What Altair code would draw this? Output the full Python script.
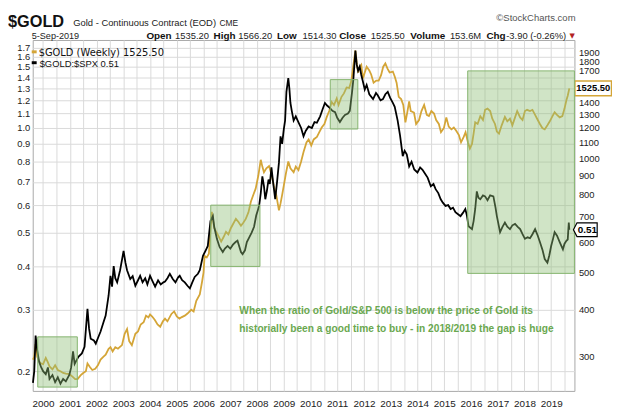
import altair as alt
import pandas as pd

SANS = "Liberation Sans, Arial, sans-serif"
GOLD_C = "#d4a537"

# ---- $GOLD:$SPX ratio (left axis) ----
ratio_years = [1999.62, 1999.67, 1999.72, 1999.78, 1999.85, 1999.93, 2000.00, 2000.10, 2000.18, 2000.24,
               2000.35, 2000.45, 2000.55, 2000.65, 2000.75, 2000.85, 2000.98, 2001.05, 2001.12, 2001.18,
               2001.32, 2001.45, 2001.55, 2001.66, 2001.72, 2001.78, 2001.90, 2001.97, 2002.06, 2002.15,
               2002.25, 2002.34, 2002.45, 2002.52, 2002.58, 2002.64, 2002.70, 2002.77, 2002.88, 2003.01,
               2003.08, 2003.14, 2003.26, 2003.35, 2003.45, 2003.55, 2003.63, 2003.72, 2003.82, 2003.90,
               2004.00, 2004.10, 2004.19, 2004.30, 2004.40, 2004.50, 2004.56, 2004.65, 2004.74, 2004.85,
               2004.95, 2005.05, 2005.11, 2005.20, 2005.30, 2005.40, 2005.49, 2005.58, 2005.67, 2005.79,
               2005.86, 2005.98, 2006.10, 2006.16, 2006.26, 2006.35, 2006.40, 2006.50, 2006.60, 2006.72,
               2006.80, 2006.90, 2007.00, 2007.10, 2007.20, 2007.27, 2007.40, 2007.46, 2007.55, 2007.62,
               2007.71, 2007.80, 2007.89, 2007.97, 2008.08, 2008.14, 2008.20, 2008.26, 2008.31, 2008.37,
               2008.43, 2008.48, 2008.54, 2008.60, 2008.68, 2008.75, 2008.82, 2008.88, 2008.94, 2009.00,
               2009.05, 2009.10, 2009.17, 2009.21, 2009.25, 2009.30, 2009.37, 2009.45, 2009.56, 2009.65,
               2009.74, 2009.82, 2009.93, 2010.05, 2010.15, 2010.24, 2010.36, 2010.45, 2010.54, 2010.62,
               2010.73, 2010.82, 2010.92, 2011.00, 2011.10, 2011.20, 2011.29, 2011.40, 2011.47, 2011.55,
               2011.60, 2011.68, 2011.73, 2011.78, 2011.84, 2011.90, 2011.96, 2012.03, 2012.10, 2012.20,
               2012.34, 2012.45, 2012.52, 2012.62, 2012.71, 2012.80, 2012.89, 2012.98, 2013.08, 2013.15,
               2013.26, 2013.35, 2013.45, 2013.52, 2013.60, 2013.69, 2013.78, 2013.88, 2014.00, 2014.10,
               2014.19, 2014.28, 2014.38, 2014.50, 2014.60, 2014.68, 2014.78, 2014.87, 2014.95, 2015.05,
               2015.15, 2015.24, 2015.33, 2015.42, 2015.52, 2015.61, 2015.70, 2015.79, 2015.85, 2015.91,
               2016.04, 2016.10, 2016.16, 2016.22, 2016.28, 2016.35, 2016.45, 2016.53, 2016.62, 2016.72,
               2016.84, 2016.92, 2016.97, 2017.09, 2017.18, 2017.27, 2017.36, 2017.46, 2017.55, 2017.65,
               2017.75, 2017.84, 2017.93, 2018.02, 2018.12, 2018.21, 2018.30, 2018.40, 2018.50, 2018.58,
               2018.68, 2018.76, 2018.86, 2018.93, 2019.00, 2019.07, 2019.13, 2019.22, 2019.32, 2019.44,
               2019.50, 2019.57, 2019.62, 2019.66, 2019.68]
ratio_values = [0.185, 0.200, 0.253, 0.230, 0.213, 0.205, 0.200, 0.196, 0.205, 0.190,
                0.195, 0.186, 0.192, 0.184, 0.190, 0.187, 0.195, 0.205, 0.228, 0.210,
                0.220, 0.225, 0.235, 0.302, 0.265, 0.248, 0.245, 0.240, 0.250, 0.260,
                0.275, 0.289, 0.330, 0.376, 0.350, 0.401, 0.370, 0.360, 0.390, 0.443,
                0.410, 0.390, 0.368, 0.375, 0.352, 0.365, 0.376, 0.360, 0.370, 0.355,
                0.376, 0.362, 0.350, 0.365, 0.355, 0.360, 0.362, 0.370, 0.381, 0.368,
                0.360, 0.372, 0.376, 0.365, 0.360, 0.352, 0.346, 0.360, 0.373, 0.381,
                0.390, 0.429, 0.448, 0.458, 0.540, 0.558, 0.520, 0.480, 0.455, 0.440,
                0.450, 0.458, 0.450, 0.462, 0.470, 0.474, 0.440, 0.434, 0.445, 0.470,
                0.485, 0.500, 0.520, 0.560, 0.597, 0.650, 0.726, 0.680, 0.624, 0.660,
                0.711, 0.690, 0.770, 0.700, 0.624, 0.700, 0.795, 0.946, 0.900, 0.989,
                1.05, 1.27, 1.39, 1.30, 1.18, 1.12, 1.05, 1.08, 1.035, 1.00,
                0.946, 0.98, 1.01, 1.00, 1.04, 1.035, 1.08, 1.13, 1.18, 1.16,
                1.14, 1.12, 1.11, 1.07, 1.04, 1.07, 1.09, 1.10, 1.12, 1.26,
                1.37, 1.67, 1.52, 1.46, 1.50, 1.42, 1.36, 1.29, 1.33, 1.25,
                1.21, 1.26, 1.24, 1.20, 1.21, 1.25, 1.27, 1.22, 1.18, 1.15,
                1.05, 0.95, 0.83, 0.86, 0.84, 0.775, 0.80, 0.76, 0.745, 0.77,
                0.758, 0.74, 0.72, 0.68, 0.69, 0.667, 0.65, 0.624, 0.61, 0.597,
                0.60, 0.585, 0.59, 0.573, 0.565, 0.558, 0.570, 0.585, 0.560, 0.522,
                0.512, 0.540, 0.585, 0.657, 0.630, 0.624, 0.640, 0.636, 0.620, 0.640,
                0.636, 0.590, 0.558, 0.502, 0.520, 0.535, 0.520, 0.512, 0.525, 0.530,
                0.520, 0.512, 0.495, 0.480, 0.485, 0.482, 0.495, 0.512, 0.490, 0.470,
                0.445, 0.420, 0.410, 0.430, 0.458, 0.480, 0.502, 0.490, 0.470, 0.448,
                0.465, 0.474, 0.478, 0.535, 0.51]

# ---- $GOLD weekly price (right axis) ----
gold_years = [1999.62, 1999.67, 1999.72, 1999.78, 1999.85, 1999.93, 2000.00, 2000.10, 2000.18, 2000.24,
              2000.35, 2000.45, 2000.55, 2000.65, 2000.75, 2000.85, 2000.98, 2001.10, 2001.20, 2001.29,
              2001.40, 2001.50, 2001.60, 2001.66, 2001.75, 2001.84, 2001.95, 2002.05, 2002.15, 2002.25,
              2002.34, 2002.45, 2002.52, 2002.60, 2002.70, 2002.80, 2002.95, 2003.05, 2003.14, 2003.22,
              2003.32, 2003.45, 2003.55, 2003.65, 2003.76, 2003.85, 2003.94, 2004.00, 2004.08, 2004.18,
              2004.28, 2004.38, 2004.48, 2004.56, 2004.65, 2004.80, 2004.90, 2005.00, 2005.10, 2005.17,
              2005.30, 2005.40, 2005.54, 2005.63, 2005.73, 2005.86, 2005.95, 2006.00, 2006.04, 2006.12,
              2006.20, 2006.31, 2006.40, 2006.47, 2006.55, 2006.66, 2006.75, 2006.84, 2006.93, 2007.02,
              2007.10, 2007.21, 2007.30, 2007.40, 2007.48, 2007.58, 2007.68, 2007.77, 2007.86, 2007.95,
              2008.05, 2008.14, 2008.20, 2008.26, 2008.35, 2008.45, 2008.55, 2008.63, 2008.72, 2008.82,
              2008.88, 2008.94, 2009.00, 2009.08, 2009.17, 2009.25, 2009.37, 2009.45, 2009.55, 2009.65,
              2009.74, 2009.85, 2009.93, 2010.03, 2010.12, 2010.24, 2010.33, 2010.42, 2010.52, 2010.61,
              2010.70, 2010.79, 2010.88, 2010.98, 2011.05, 2011.16, 2011.25, 2011.35, 2011.45, 2011.53,
              2011.60, 2011.68, 2011.73, 2011.78, 2011.84, 2011.90, 2011.96, 2012.03, 2012.10, 2012.20,
              2012.27, 2012.36, 2012.46, 2012.55, 2012.64, 2012.72, 2012.80, 2012.88, 2012.96, 2013.08,
              2013.15, 2013.22, 2013.30, 2013.39, 2013.47, 2013.55, 2013.62, 2013.69, 2013.75, 2013.87,
              2013.95, 2014.06, 2014.15, 2014.25, 2014.35, 2014.43, 2014.52, 2014.62, 2014.70, 2014.80,
              2014.88, 2014.99, 2015.08, 2015.17, 2015.27, 2015.36, 2015.45, 2015.55, 2015.63, 2015.73,
              2015.80, 2015.89, 2015.96, 2016.04, 2016.10, 2016.16, 2016.25, 2016.35, 2016.45, 2016.53,
              2016.62, 2016.72, 2016.80, 2016.90, 2016.97, 2017.05, 2017.15, 2017.27, 2017.36, 2017.46,
              2017.55, 2017.65, 2017.73, 2017.84, 2017.93, 2018.02, 2018.10, 2018.21, 2018.30, 2018.40,
              2018.50, 2018.58, 2018.67, 2018.76, 2018.86, 2018.95, 2019.05, 2019.13, 2019.22, 2019.32,
              2019.42, 2019.50, 2019.57, 2019.62, 2019.68]
gold_prices = [295, 300, 324, 300, 292, 288, 287, 298, 290, 283,
               278, 285, 277, 275, 272, 271, 270, 266, 262, 262,
               268, 272, 275, 288, 282, 277, 279, 285, 295, 300,
               304, 315, 318, 310, 318, 315, 322, 345, 355, 330,
               322, 345, 350, 365, 370, 385, 381, 388, 383, 375,
               365, 360, 372, 378, 372, 389, 395, 383, 378, 381,
               385, 390, 399, 395, 421, 438, 475, 500, 553, 548,
               560, 722, 654, 640, 625, 603, 620, 640, 630, 654,
               670, 692, 680, 664, 675, 692, 720, 768, 800, 831,
               900, 990, 950, 918, 940, 953, 900, 845, 800, 729,
               760, 800, 845, 910, 980, 940, 918, 950, 930, 980,
               1038, 1100, 1119, 1080, 1120, 1137, 1170, 1204, 1230, 1284,
               1330, 1405, 1380, 1436, 1380, 1450, 1480, 1535, 1530, 1600,
               1750, 1920, 1780, 1680, 1737, 1760, 1620, 1680, 1740, 1700,
               1660, 1580, 1600, 1600, 1653, 1740, 1775, 1720, 1680, 1690,
               1640, 1580, 1450, 1430, 1380, 1242, 1320, 1410, 1330, 1318,
               1230, 1260, 1330, 1380, 1300, 1290, 1330, 1310, 1260, 1230,
               1170, 1201, 1280, 1210, 1190, 1204, 1180, 1150, 1100, 1137,
               1170, 1100, 1060, 1090, 1160, 1242, 1230, 1290, 1260, 1340,
               1350, 1330, 1270, 1230, 1175, 1160, 1220, 1284, 1250, 1270,
               1220, 1280, 1330, 1280, 1260, 1330, 1340, 1330, 1340, 1300,
               1260, 1230, 1200, 1190, 1220, 1250, 1290, 1320, 1300, 1280,
               1290, 1350, 1420, 1460, 1525.5]

# ---- highlighted regions (in ratio units) ----
box_start = [1999.80, 2006.27, 2010.74, 2015.88]
box_end = [2001.28, 2008.11, 2011.77, 2019.87]
box_low = [0.180, 0.400, 0.993, 0.382]
box_high = [0.251, 0.600, 1.377, 1.459]

ratio_ticks = [0.2, 0.3, 0.4, 0.5, 0.6, 0.7, 0.8, 0.9, 1.0, 1.1, 1.2, 1.3, 1.4, 1.5, 1.6, 1.7]
gold_ticks = [300, 400, 500, 600, 700, 800, 900, 1000, 1100, 1200, 1300, 1400, 1700, 1800, 1900]
year_grid = [y + h for y in range(2000, 2020) for h in (0.0, 0.5)]

last_gold = [1525.5]
last_ratio = [0.51]

annotation = ["When the ratio of Gold/S&P 500 is below the price of Gold its",
              "historially been a good time to buy - in 2018/2019 the gap is huge"]

# ---- scales & axes ----
x_scale = alt.Scale(domain=[1999.612, 2019.871], nice=False, zero=False)
x_axis = alt.Axis(values=year_grid, labelExpr="datum.value % 1 == 0 ? '' + datum.value : ''",
                  grid=True, gridColor="#dadada", ticks=False, domain=False, labelOverlap=False,
                  labelFont=SANS, labelFontSize=10, labelColor="#222", labelPadding=8, title=None)
ratio_scale = alt.Scale(type="log", domain=[0.1755, 1.79], nice=False)
ratio_axis = alt.Axis(orient="left", values=ratio_ticks, format=".1f", grid=True, gridColor="#dadada",
                      ticks=False, domain=False, labelOverlap=False, labelFont=SANS,
                      labelFontSize=9.5, labelColor="#222", labelPadding=3, title=None)
gold_scale = alt.Scale(type="log", domain=[244, 2046], nice=False)
gold_axis = alt.Axis(orient="right", values=gold_ticks, format="d", grid=False, ticks=False,
                     domain=False, labelOverlap=False, labelFont=SANS, labelFontSize=9.5,
                     labelColor="#222", labelPadding=4, title=None)


def X(field):
    return alt.X(field, type="quantitative", scale=x_scale, axis=x_axis)


def YR(field):
    return alt.Y(field, type="quantitative", scale=ratio_scale, axis=ratio_axis)


def YG(field):
    return alt.Y(field, type="quantitative", scale=gold_scale, axis=gold_axis)


ratio_df = pd.DataFrame({"year": ratio_years, "ratio": ratio_values})
gold_df = pd.DataFrame({"year": gold_years, "gold": gold_prices})
box_df = pd.DataFrame({"x1": box_start, "x2": box_end, "lo": box_low, "hi": box_high})

gold_line = alt.Chart(gold_df).mark_line(color=GOLD_C, strokeWidth=1.8).encode(
    x=X("year"), y=YG("gold"))
gold_tag_box = alt.Chart(pd.DataFrame({"v": last_gold})).mark_point(
    shape="M-1,-0.4L1,-0.4L1,0.4L-1,0.4Z", size=1369, fill="white", fillOpacity=1,
    stroke=GOLD_C, strokeWidth=1.5, opacity=1).encode(x=alt.value(567), y=YG("v"))
gold_tag_text = alt.Chart(pd.DataFrame({"v": last_gold, "t": ["1525.50"]})).mark_text(
    font=SANS, fontSize=9.5, fontWeight="bold", color="#000", baseline="middle").encode(
    x=alt.value(567), y=YG("v"), text="t:N")
gold_group = alt.layer(gold_line, gold_tag_box, gold_tag_text)

ratio_line = alt.Chart(ratio_df).mark_line(color="#000", strokeWidth=1.8).encode(
    x=X("year"), y=YR("ratio"))
boxes = alt.Chart(box_df).mark_rect(fill="#8fbf78", fillOpacity=0.42, stroke="#86b46f",
                                    strokeWidth=1).encode(
    x=X("x1"), x2="x2", y=YR("hi"), y2="lo")
ratio_tag_box = alt.Chart(pd.DataFrame({"v": last_ratio})).mark_point(
    shape="M-1,0L-0.7,-0.58L1,-0.58L1,0.58L-0.7,0.58Z", size=576, fill="white", fillOpacity=1,
    stroke="#000", strokeWidth=1.2, opacity=1).encode(x=alt.value(559), y=YR("v"))
ratio_tag_text = alt.Chart(pd.DataFrame({"v": last_ratio, "t": ["0.51"]})).mark_text(
    font=SANS, fontSize=10, fontWeight="bold", color="#000", baseline="middle").encode(
    x=alt.value(561), y=YR("v"), text="t:N")
ratio_group = alt.layer(ratio_line, boxes, ratio_tag_box, ratio_tag_text)


def label(text, x, y, size, bold=False, color="#222", font=SANS):
    return alt.Chart(pd.DataFrame({"t": [text]})).mark_text(
        align="left", baseline="alphabetic", fontSize=size,
        fontWeight="bold" if bold else "normal", color=color, font=font).encode(
        x=alt.value(x), y=alt.value(y), text="t:N")


def dash(y, color):
    return alt.Chart(pd.DataFrame({"d": [0]})).mark_rule(color=color, strokeWidth=3).encode(
        x=alt.value(-1), x2=alt.value(4), y=alt.value(y))


texts = [
    label("$GOLD", -25, -13, 16.5, bold=True, color="#111"),
    label("Gold - Continuous Contract (EOD)", 41, -14, 9.5),
    label("CME", 189, -14, 8.5),
    label("5-Sep-2019", -1, -1, 9.2),
    label("Open", 115, -1, 10, bold=True, color="#111"),
    label("1535.20", 144, -1, 9.5),
    label("High", 183, -1, 10, bold=True, color="#111"),
    label("1566.20", 208, -1, 9.5),
    label("Low", 247, -1, 10, bold=True, color="#111"),
    label("1514.30", 273, -1, 9.5),
    label("Close", 310, -1, 10, bold=True, color="#111"),
    label("1525.50", 342, -1, 9.5),
    label("Volume", 382, -1, 10, bold=True, color="#111"),
    label("153.6M", 422, -1, 9.5),
    label("Chg", 459, -1, 10, bold=True, color="#111"),
    label("-3.90 (-0.26%)", 479, -1, 9.5),
    label("\u25bc", 543, -2, 7, color="#b22222", font="DejaVu Sans"),
    label("\u00a9StockCharts.com", 469, -19, 9.6, color="#555"),
    dash(12, GOLD_C),
    label("$GOLD (Weekly) 1525.50", 6, 16, 10, color="#111", font="DejaVu Sans"),
    dash(23, "#000"),
    label("$GOLD:$SPX 0.51", 7, 27, 9.5, color="#111"),
    label(annotation[0], 209, 277, 10.3, bold=True, color="#6aa84f"),
    label(annotation[1], 209, 295, 10.3, bold=True, color="#6aa84f"),
]

chart = alt.layer(gold_group, ratio_group, *texts).resolve_scale(y="independent").properties(
    width=548, height=355,
    padding={"left": 25, "top": 30, "right": 38, "bottom": 21},
    autosize=alt.AutoSizeParams(type="none"),
).configure_view(stroke="#a8a8a8", strokeWidth=1)

chart.save("out.html", embed_options={"renderer": "svg", "actions": False})
